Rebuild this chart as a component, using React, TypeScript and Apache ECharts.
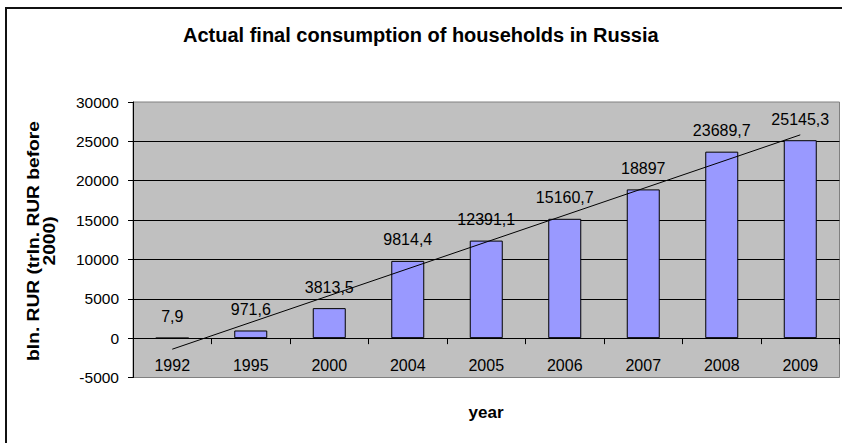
import React, { useEffect, useRef } from "react";
import * as echarts from "echarts";

const titleText = "Actual final consumption of households in Russia";
const years = ["1992", "1995", "2000", "2004", "2005", "2006", "2007", "2008", "2009"];
const consumption = [7.9, 971.6, 3813.5, 9814.4, 12391.1, 15160.7, 18897, 23689.7, 25145.3];
// linear trendline end points
const trendStart = -1404;
const trendEnd = 25825;
const yTicks = { min: -5000, max: 30000, interval: 5000 };
const yName = "bln. RUR (trln. RUR before\n2000)";
const xName = "year";

const FONT = "'Liberation Sans', Arial, sans-serif";

const GRID_TOP = 102;
const GRID_H = 275.5;

export default function App() {
  const ref = useRef<HTMLDivElement>(null);
  useEffect(() => {
    if (!ref.current) return;
    const chart = echarts.init(ref.current, null, { renderer: "svg" });
    const trend = years.map((_, i) =>
      i === 0 ? trendStart : i === years.length - 1 ? trendEnd : null
    );
    // distance of the zero line above the plot bottom
    const zeroOffset = (GRID_H * (0 - yTicks.min)) / (yTicks.max - yTicks.min);
    chart.setOption({
      animation: false,
      backgroundColor: "#ffffff",
      textStyle: { fontFamily: FONT },
      title: {
        text: titleText,
        left: 183,
        top: 25,
        padding: 0,
        textStyle: { fontFamily: FONT, fontSize: 20, fontWeight: "bold", color: "#000" },
      },
      grid: {
        left: 133,
        top: GRID_TOP,
        width: 706.5,
        height: GRID_H,
        show: true,
        backgroundColor: "#C0C0C0",
        borderColor: "#808080",
        borderWidth: 1,
      },
      xAxis: {
        type: "category",
        data: years,
        boundaryGap: true,
        position: "bottom",
        offset: -zeroOffset,
        axisLine: { show: true, onZero: false, lineStyle: { color: "#000", width: 1 } },
        axisTick: { show: true, length: 6, lineStyle: { color: "#000" } },
        axisLabel: { margin: 19, fontSize: 16, color: "#000", fontFamily: FONT },
        splitLine: { show: false },
      },
      yAxis: {
        type: "value",
        min: yTicks.min,
        max: yTicks.max,
        interval: yTicks.interval,
        axisLine: { show: true, lineStyle: { color: "#000", width: 1 } },
        axisTick: { show: true, length: 5, lineStyle: { color: "#000" } },
        axisLabel: {
          margin: 14,
          fontSize: 15.5,
          color: "#000",
          fontFamily: FONT,
          formatter: (v: number) => String(v),
        },
        splitLine: {
          show: true,
          showMinLine: false,
          showMaxLine: false,
          lineStyle: { color: "#000", width: 1 },
        },
      },
      series: [
        {
          type: "bar",
          data: consumption,
          barWidth: 33,
          itemStyle: { color: "#9999FF", borderColor: "#000", borderWidth: 1 },
          label: {
            show: true,
            position: "top",
            distance: 13,
            fontSize: 16,
            color: "#000",
            fontFamily: FONT,
            formatter: (p: any) => String(p.value).replace(".", ","),
          },
          z: 2,
        },
        {
          type: "line",
          data: trend,
          connectNulls: true,
          symbol: "none",
          lineStyle: { color: "#000", width: 1 },
          z: 3,
          silent: true,
        },
      ],
      graphic: [
        {
          type: "rect",
          shape: { x: 6, y: 8, width: 1000, height: 1000 },
          style: { fill: "none", stroke: "#111", lineWidth: 2 },
          silent: true,
          z: 100,
        },
        {
          type: "text",
          x: 42,
          y: 241,
          rotation: Math.PI / 2,
          scaleX: 1.2,
          style: {
            text: yName,
            fontFamily: FONT,
            fontSize: 16,
            fontWeight: "bold",
            lineHeight: 16,
            fill: "#000",
            textAlign: "center",
            textVerticalAlign: "middle",
          },
        },
        {
          type: "text",
          x: 486,
          y: 412,
          style: {
            text: xName,
            fontFamily: FONT,
            fontSize: 17,
            fontWeight: "bold",
            fill: "#000",
            textAlign: "center",
            textVerticalAlign: "middle",
          },
        },
      ],
    });
    return () => chart.dispose();
  }, []);
  return (
    <div
      ref={ref}
      style={{ position: "absolute", left: 0, top: 0, width: 842, height: 443 }}
    />
  );
}
